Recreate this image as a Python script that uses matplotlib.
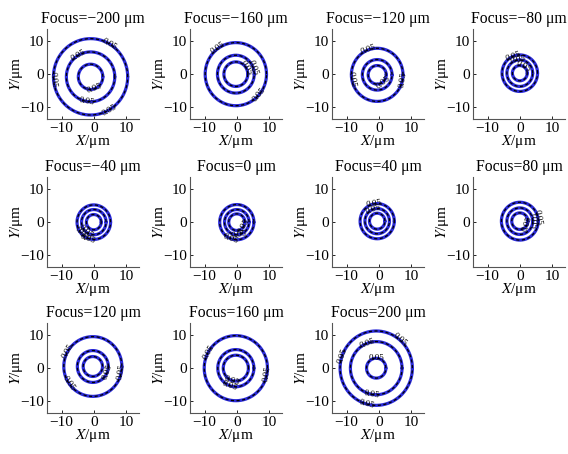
import numpy as np
import matplotlib
matplotlib.use("Agg")
import matplotlib.pyplot as plt

plt.rcParams['font.family'] = ['Liberation Serif', 'DejaVu Serif']
plt.rcParams['mathtext.fontset'] = 'stix'

# focus positions (um) and ring geometry
focus = [-200, -160, -120, -80, -40, 0, 40, 80, 120, 160, 200]
cx = [-1.0, -0.3, -0.5, 0.0, 0.0, 0.0, -0.5, 0.0, -0.3, -0.3, -0.8]
cy = [-0.8, 0.0, -0.2, 0.3, 0.0, 0.0, 0.3, 0.3, 0.5, 0.0, 0.0]
r_outer = [11.5, 9.5, 8.0, 5.5, 5.2, 5.3, 5.3, 5.7, 9.0, 9.8, 11.2]
r_mid = [7.5, 5.7, 4.6, 4.0, 3.8, 3.8, 3.8, 4.0, 4.8, 5.6, 8.0]
r_inner = [3.8, 3.7, 2.8, 2.3, 2.3, 2.5, 2.4, 2.5, 3.0, 3.9, 3.0]

# contour labels: (ring index 0=outer 1=mid 2=inner, angle in degrees)
labels = [
    [(0, 60), (1, 120), (0, 185), (1, 260), (0, 300), (2, 290)],
    [(0, 125), (0, -40), (2, 30), (1, 20)],
    [(0, 110), (0, 190), (0, -10), (2, -50)],
    [(1, 100), (0, 110), (2, 60)],
    [(0, 220), (1, 230), (0, 250)],
    [(0, 250), (1, 280), (2, 330)],
    [(0, 100), (1, 110)],
    [(0, 10), (1, 0), (2, -20)],
    [(0, 150), (0, 215), (0, 350), (1, 340)],
    [(0, 150), (0, 350), (1, 250), (2, 250)],
    [(0, 50), (0, 160), (1, 110), (2, 90), (1, 260), (0, 255)],
]

W, H = 568, 454
fig = plt.figure(figsize=(W / 100, H / 100), dpi=100)

col_left = [47, 190, 332, 473]
row_top = [29, 177, 323]
aw, ah = 92, 90

theta = np.linspace(0, 2 * np.pi, 400)

for i, f in enumerate(focus):
    row, col = divmod(i, 4)
    l = col_left[col]
    t = row_top[row]
    ax = fig.add_axes([l / W, 1 - (t + ah) / H, aw / W, ah / H])
    radii = [r_outer[i], r_mid[i], r_inner[i]]
    for r in radii:
        x = cx[i] + r * np.cos(theta)
        y = cy[i] + r * np.sin(theta)
        ax.plot(x, y, color='#2b2bd8', lw=2.3, solid_capstyle='round')
        ax.plot(x, y, color='black', lw=0.9, dashes=(2.5, 2))
    for k, a in labels[i]:
        r = radii[k]
        ar = np.deg2rad(a)
        rot = a - 90
        if rot < -90:
            rot += 180
        if rot > 90:
            rot -= 180
        ax.text(cx[i] + r * np.cos(ar), cy[i] + r * np.sin(ar), '0.05',
                fontsize=6.5, rotation=rot, ha='center', va='center',
                color='black')
    ax.set_xlim(-14.5, 14)
    ax.set_ylim(-13.5, 13.6)
    ax.set_xticks([-10, 0, 10])
    ax.set_yticks([-10, 0, 10])
    ax.set_xticklabels(['\u221210', '0', '10'])
    ax.set_yticklabels(['\u221210', '0', '10'])
    ax.tick_params(direction='in', length=2, width=0.6, labelsize=11, pad=2)
    for s in ['top', 'right']:
        ax.spines[s].set_visible(False)
    for s in ['left', 'bottom']:
        ax.spines[s].set_color('#555555')
        ax.spines[s].set_linewidth(0.8)
    sign = '\u2212' if f < 0 else ''
    ax.set_title('Focus=%s%d \u03bcm' % (sign, abs(f)), fontsize=11.3, pad=4)
    ax.set_xlabel('$X$/\u03bcm', fontsize=11, labelpad=-1)
    ax.set_ylabel('$Y$/\u03bcm', fontsize=11, labelpad=-3)

fig.savefig('out.png', dpi=100)
